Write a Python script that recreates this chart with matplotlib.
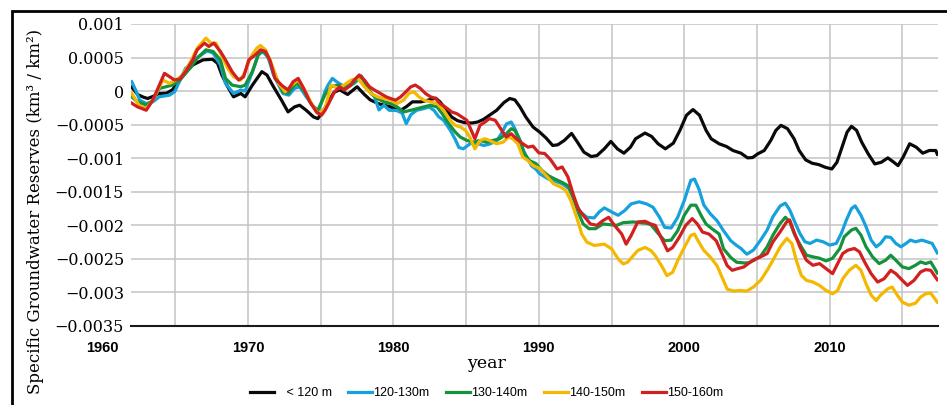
import numpy as np
import matplotlib
matplotlib.use("Agg")
import matplotlib.pyplot as plt
from matplotlib.patches import Rectangle
from matplotlib.transforms import blended_transform_factory

# values are in units of 0.001 km3/km2
yr_black = [1962.0, 1962.4, 1962.8, 1963.1, 1963.45, 1963.9, 1964.4, 1964.8, 1965.3, 1965.8,
            1966.2, 1966.9, 1967.55, 1967.9, 1968.2, 1968.6, 1969.0, 1969.5, 1969.8, 1970.3,
            1970.95, 1971.3, 1971.75, 1972.3, 1972.75, 1973.2, 1973.55, 1974.0, 1974.5, 1974.8,
            1975.3, 1975.9, 1976.3, 1976.85, 1977.5, 1978.0, 1978.4, 1979.0, 1979.8, 1980.4,
            1980.9, 1981.3, 1981.9, 1982.55, 1982.9, 1983.2, 1983.6, 1984.0, 1984.4, 1984.9,
            1985.4, 1985.8, 1986.2, 1986.6, 1987.1, 1987.6, 1988.0, 1988.35, 1988.7, 1989.1,
            1989.6, 1990.05, 1990.5, 1990.95, 1991.3, 1991.75, 1992.25, 1992.65, 1993.1, 1993.6,
            1994.0, 1994.5, 1994.95, 1995.4, 1995.85, 1996.3, 1996.65, 1997.3, 1997.75, 1998.2,
            1998.7, 1999.25, 1999.7, 2000.15, 2000.6, 2001.05, 2001.5, 2001.85, 2002.4, 2002.9,
            2003.35, 2003.9, 2004.35, 2004.7, 2005.05, 2005.5, 2005.95, 2006.3, 2006.65, 2007.1,
            2007.55, 2007.9, 2008.35, 2008.8, 2009.25, 2009.7, 2010.15, 2010.5, 2010.85, 2011.2,
            2011.5, 2011.85, 2012.2, 2012.65, 2013.1, 2013.55, 2014.0, 2014.35, 2014.7, 2015.05,
            2015.5, 2015.95, 2016.4, 2016.85, 2017.3, 2017.4]
v_black = [0.06, -0.05, -0.09, -0.11, -0.08, -0.035, -0.03, 0.02, 0.165, 0.30,
           0.39, 0.465, 0.475, 0.415, 0.24, 0.065, -0.085, -0.035, -0.085, 0.09,
           0.29, 0.24, 0.065, -0.135, -0.31, -0.235, -0.21, -0.285, -0.385, -0.41,
           -0.25, -0.02, 0.02, -0.05, 0.065, -0.05, -0.13, -0.19, -0.235, -0.30,
           -0.23, -0.16, -0.16, -0.125, -0.105, -0.16, -0.27, -0.385, -0.44, -0.47,
           -0.475, -0.46, -0.42, -0.36, -0.285, -0.17, -0.11, -0.13, -0.235, -0.385,
           -0.535, -0.61, -0.70, -0.81, -0.80, -0.735, -0.63, -0.76, -0.91, -0.975,
           -0.96, -0.86, -0.75, -0.86, -0.925, -0.835, -0.71, -0.625, -0.675, -0.785,
           -0.86, -0.775, -0.585, -0.36, -0.275, -0.36, -0.585, -0.71, -0.785, -0.825,
           -0.885, -0.925, -0.995, -0.99, -0.935, -0.885, -0.735, -0.585, -0.51, -0.56,
           -0.71, -0.885, -1.025, -1.075, -1.095, -1.135, -1.16, -1.06, -0.835, -0.61,
           -0.525, -0.585, -0.76, -0.935, -1.085, -1.06, -0.995, -1.05, -1.11, -0.985,
           -0.785, -0.835, -0.925, -0.885, -0.885, -0.94]

yr_blue = [1962.0, 1962.3, 1962.55, 1963.0, 1963.45, 1963.9, 1964.6, 1964.95, 1965.3, 1965.7,
           1966.2, 1966.6, 1967.2, 1967.6, 1968.1, 1968.45, 1969.0, 1969.5, 1969.8, 1970.3,
           1970.7, 1971.05, 1971.4, 1971.75, 1972.4, 1972.8, 1973.2, 1973.55, 1974.0, 1974.6,
           1974.85, 1975.3, 1975.5, 1975.8, 1976.15, 1976.6, 1977.3, 1977.8, 1978.2, 1978.7,
           1979.0, 1979.35, 1979.7, 1980.25, 1980.6, 1980.88, 1981.2, 1981.6, 1982.1, 1982.45,
           1982.8, 1983.1, 1983.45, 1983.9, 1984.25, 1984.5, 1984.8, 1985.3, 1985.75, 1986.2,
           1986.6, 1987.1, 1987.4, 1987.77, 1988.1, 1988.35, 1988.7, 1988.95, 1989.5, 1989.8,
           1990.05, 1990.65, 1991.1, 1991.6, 1992.1, 1992.45, 1992.85, 1993.3, 1993.8, 1994.15,
           1994.5, 1995.0, 1995.45, 1995.9, 1996.35, 1996.9, 1997.4, 1997.85, 1998.3, 1998.65,
           1999.1, 1999.55, 2000.0, 2000.45, 2000.7, 2001.0, 2001.35, 2001.8, 2002.25, 2002.7,
           2003.2, 2003.6, 2003.9, 2004.3, 2004.75, 2005.25, 2005.7, 2006.1, 2006.6, 2006.95,
           2007.25, 2007.6, 2007.95, 2008.3, 2008.65, 2009.1, 2009.55, 2010.0, 2010.45, 2010.8,
           2011.15, 2011.5, 2011.75, 2012.15, 2012.5, 2012.85, 2013.2, 2013.5, 2013.85, 2014.2,
           2014.55, 2014.9, 2015.25, 2015.55, 2015.9, 2016.35, 2016.7, 2017.05, 2017.4]
v_blue = [0.14, 0.0, -0.135, -0.185, -0.16, -0.085, -0.06, -0.01, 0.15, 0.34,
          0.415, 0.515, 0.60, 0.565, 0.39, 0.115, -0.035, 0.015, 0.0, 0.29,
          0.54, 0.59, 0.49, 0.24, -0.035, -0.06, 0.04, 0.065, -0.085, -0.26,
          -0.30, 0.0, 0.09, 0.19, 0.13, 0.07, 0.115, 0.22, 0.04, -0.085,
          -0.28, -0.21, -0.285, -0.29, -0.33, -0.485, -0.35, -0.285, -0.26, -0.235,
          -0.29, -0.38, -0.435, -0.58, -0.72, -0.84, -0.86, -0.78, -0.78, -0.81,
          -0.79, -0.74, -0.64, -0.49, -0.46, -0.56, -0.735, -0.89, -1.115, -1.165,
          -1.23, -1.31, -1.34, -1.38, -1.455, -1.63, -1.80, -1.88, -1.89, -1.80,
          -1.74, -1.80, -1.85, -1.78, -1.68, -1.65, -1.68, -1.73, -1.88, -2.03,
          -2.04, -1.88, -1.63, -1.33, -1.31, -1.455, -1.70, -1.83, -1.93, -2.08,
          -2.23, -2.30, -2.345, -2.43, -2.37, -2.22, -2.07, -1.87, -1.71, -1.67,
          -1.77, -1.95, -2.12, -2.245, -2.27, -2.22, -2.245, -2.295, -2.27, -2.12,
          -1.92, -1.75, -1.71, -1.85, -2.02, -2.22, -2.32, -2.27, -2.17, -2.18,
          -2.27, -2.32, -2.27, -2.22, -2.245, -2.22, -2.245, -2.27, -2.41]

yr_green = [1962.0, 1962.4, 1963.0, 1963.45, 1963.9, 1964.35, 1964.8, 1965.3, 1966.0, 1966.5,
            1967.1, 1967.6, 1968.1, 1968.45, 1968.9, 1969.5, 1969.8, 1970.3, 1970.7, 1970.95,
            1971.3, 1971.6, 1972.0, 1972.4, 1972.75, 1973.2, 1973.4, 1973.9, 1974.4, 1974.8,
            1975.3, 1975.7, 1976.2, 1976.6, 1977.1, 1977.45, 1977.77, 1978.1, 1978.45, 1978.9,
            1979.35, 1979.8, 1980.25, 1980.7, 1981.2, 1981.65, 1982.1, 1982.55, 1983.0, 1983.35,
            1983.8, 1984.25, 1984.6, 1985.05, 1985.5, 1985.95, 1986.4, 1986.85, 1987.3, 1987.77,
            1988.1, 1988.35, 1988.7, 1989.0, 1989.35, 1989.8, 1990.2, 1990.65, 1991.1, 1991.6,
            1992.0, 1992.35, 1992.7, 1993.05, 1993.45, 1993.9, 1994.4, 1994.9, 1995.35, 1995.8,
            1996.5, 1996.95, 1997.4, 1997.7, 1998.2, 1998.65, 1999.1, 1999.55, 2000.0, 2000.45,
            2000.8, 2001.15, 2001.5, 2001.9, 2002.4, 2002.7, 2003.2, 2003.6, 2004.1, 2004.4,
            2004.8, 2005.25, 2005.7, 2006.1, 2006.6, 2006.95, 2007.25, 2007.6, 2008.05, 2008.4,
            2008.85, 2009.3, 2009.75, 2010.2, 2010.7, 2011.0, 2011.5, 2011.8, 2012.15, 2012.5,
            2012.95, 2013.4, 2013.85, 2014.2, 2014.55, 2015.0, 2015.45, 2015.9, 2016.25, 2016.6,
            2016.95, 2017.4]
v_green = [-0.085, -0.16, -0.21, -0.14, 0.04, 0.065, 0.09, 0.165, 0.34, 0.49,
           0.615, 0.59, 0.465, 0.19, 0.09, 0.065, 0.09, 0.29, 0.54, 0.60,
           0.54, 0.39, 0.165, -0.01, -0.035, 0.09, 0.115, -0.01, -0.21, -0.285,
           -0.05, 0.065, 0.09, 0.065, 0.09, 0.165, 0.225, 0.115, -0.035, -0.11,
           -0.16, -0.185, -0.235, -0.31, -0.285, -0.26, -0.235, -0.21, -0.235, -0.335,
           -0.485, -0.61, -0.685, -0.735, -0.76, -0.735, -0.76, -0.735, -0.71, -0.635,
           -0.56, -0.585, -0.735, -0.935, -1.035, -1.08, -1.18, -1.26, -1.31, -1.36,
           -1.41, -1.58, -1.80, -1.98, -2.05, -2.05, -1.98, -1.99, -2.0, -1.96,
           -1.95, -1.96, -1.97, -1.99, -2.12, -2.23, -2.22, -2.08, -1.85, -1.70,
           -1.70, -1.85, -1.98, -2.05, -2.13, -2.35, -2.48, -2.55, -2.56, -2.56,
           -2.52, -2.46, -2.32, -2.145, -1.97, -1.88, -1.945, -2.145, -2.32, -2.445,
           -2.47, -2.49, -2.53, -2.49, -2.345, -2.17, -2.07, -2.045, -2.145, -2.32,
           -2.47, -2.57, -2.52, -2.445, -2.52, -2.62, -2.645, -2.595, -2.545, -2.57,
           -2.545, -2.71]

yr_yellow = [1962.0, 1962.5, 1963.0, 1963.45, 1963.9, 1964.15, 1964.6, 1965.05, 1965.5, 1966.05,
             1966.5, 1967.1, 1967.45, 1967.8, 1968.1, 1968.6, 1969.0, 1969.5, 1969.8, 1970.2,
             1970.6, 1970.85, 1971.2, 1971.6, 1972.1, 1972.55, 1973.0, 1973.45, 1973.9, 1974.35,
             1974.8, 1975.3, 1975.7, 1976.2, 1976.6, 1977.1, 1977.55, 1978.0, 1978.45, 1978.9,
             1979.35, 1979.8, 1980.25, 1980.7, 1981.05, 1981.4, 1981.75, 1982.1, 1982.55, 1983.0,
             1983.45, 1983.9, 1984.25, 1984.6, 1984.95, 1985.25, 1985.6, 1985.95, 1986.3, 1986.6,
             1987.1, 1987.55, 1987.9, 1988.2, 1988.55, 1988.9, 1989.25, 1989.6, 1990.05, 1990.5,
             1991.0, 1991.5, 1991.85, 1992.2, 1992.6, 1992.95, 1993.3, 1993.8, 1994.15, 1994.5,
             1995.0, 1995.45, 1995.8, 1996.1, 1996.5, 1996.8, 1997.3, 1997.7, 1998.0, 1998.5,
             1998.8, 1999.2, 1999.55, 2000.0, 2000.45, 2000.7, 2001.0, 2001.35, 2001.8, 2002.25,
             2002.6, 2002.95, 2003.4, 2003.85, 2004.3, 2004.75, 2005.25, 2005.7, 2006.1, 2006.6,
             2007.05, 2007.4, 2007.7, 2008.05, 2008.4, 2008.85, 2009.3, 2009.75, 2010.2, 2010.55,
             2010.9, 2011.35, 2011.8, 2012.15, 2012.5, 2012.85, 2013.2, 2013.5, 2014.0, 2014.3,
             2014.65, 2015.0, 2015.45, 2015.9, 2016.25, 2016.6, 2016.95, 2017.15, 2017.4]
v_yellow = [-0.035, -0.21, -0.26, -0.14, 0.06, 0.165, 0.115, 0.165, 0.24, 0.44,
            0.64, 0.79, 0.715, 0.715, 0.565, 0.34, 0.215, 0.165, 0.29, 0.515,
            0.64, 0.68, 0.615, 0.415, 0.115, -0.01, 0.09, 0.165, 0.015, -0.18,
            -0.335, -0.26, 0.09, 0.04, 0.09, 0.165, 0.19, 0.065, -0.035, -0.085,
            -0.11, -0.135, -0.185, -0.135, -0.035, -0.01, -0.085, -0.135, -0.16, -0.185,
            -0.285, -0.435, -0.51, -0.535, -0.585, -0.685, -0.86, -0.735, -0.71, -0.735,
            -0.785, -0.76, -0.685, -0.71, -0.785, -0.985, -1.035, -1.11, -1.15, -1.26,
            -1.38, -1.43, -1.48, -1.63, -1.88, -2.13, -2.25, -2.30, -2.29, -2.28,
            -2.35, -2.50, -2.575, -2.55, -2.45, -2.375, -2.33, -2.375, -2.45, -2.625,
            -2.75, -2.70, -2.525, -2.33, -2.15, -2.13, -2.25, -2.375, -2.475, -2.60,
            -2.775, -2.95, -2.98, -2.97, -2.98, -2.92, -2.82, -2.67, -2.52, -2.32,
            -2.195, -2.27, -2.52, -2.745, -2.82, -2.845, -2.895, -2.97, -3.02, -2.97,
            -2.795, -2.67, -2.595, -2.67, -2.87, -3.04, -3.12, -3.04, -2.945, -2.92,
            -3.04, -3.145, -3.19, -3.16, -3.07, -3.02, -3.01, -3.07, -3.145]

yr_red = [1962.0, 1962.4, 1963.0, 1963.45, 1963.9, 1964.25, 1964.6, 1964.95, 1965.3, 1965.7,
          1966.2, 1966.5, 1967.0, 1967.3, 1967.65, 1968.1, 1968.45, 1968.9, 1969.35, 1969.7,
          1970.05, 1970.5, 1970.85, 1971.2, 1971.5, 1971.85, 1972.3, 1972.75, 1973.1, 1973.45,
          1973.8, 1974.25, 1974.7, 1975.05, 1975.3, 1975.6, 1975.95, 1976.3, 1976.6, 1977.0,
          1977.3, 1977.65, 1978.0, 1978.35, 1978.7, 1979.1, 1979.5, 1979.8, 1980.15, 1980.5,
          1980.85, 1981.2, 1981.5, 1981.85, 1982.2, 1982.55, 1982.9, 1983.2, 1983.55, 1984.0,
          1984.35, 1984.7, 1985.05, 1985.25, 1985.6, 1985.95, 1986.3, 1986.6, 1987.0, 1987.45,
          1987.75, 1988.1, 1988.45, 1988.9, 1989.25, 1989.6, 1990.0, 1990.4, 1990.8, 1991.25,
          1991.6, 1992.0, 1992.35, 1992.7, 1993.05, 1993.55, 1994.0, 1994.4, 1994.8, 1995.2,
          1995.7, 1996.0, 1996.35, 1996.8, 1997.3, 1997.7, 1998.0, 1998.4, 1998.85, 1999.2,
          1999.65, 2000.1, 2000.55, 2000.9, 2001.25, 2001.7, 2002.2, 2002.6, 2002.95, 2003.3,
          2003.6, 2004.1, 2004.4, 2004.8, 2005.25, 2005.7, 2006.1, 2006.6, 2007.05, 2007.25,
          2007.5, 2007.95, 2008.4, 2008.85, 2009.3, 2009.75, 2010.2, 2010.55, 2010.9, 2011.25,
          2011.7, 2012.05, 2012.4, 2012.85, 2013.3, 2013.75, 2014.2, 2014.55, 2015.0, 2015.35,
          2015.8, 2016.25, 2016.6, 2016.95, 2017.4]
v_red = [-0.18, -0.235, -0.285, -0.135, 0.09, 0.265, 0.215, 0.165, 0.18, 0.29,
         0.465, 0.615, 0.715, 0.665, 0.715, 0.59, 0.465, 0.29, 0.165, 0.215,
         0.465, 0.54, 0.615, 0.59, 0.465, 0.19, 0.09, 0.015, 0.14, 0.19,
         0.05, -0.16, -0.31, -0.36, -0.285, -0.16, -0.01, 0.065, 0.015, 0.075,
         0.165, 0.24, 0.165, 0.065, 0.015, -0.035, -0.085, -0.11, -0.135, -0.085,
         -0.01, 0.065, 0.09, 0.04, -0.035, -0.085, -0.11, -0.185, -0.235, -0.31,
         -0.335, -0.385, -0.435, -0.535, -0.71, -0.51, -0.46, -0.41, -0.435, -0.585,
         -0.685, -0.635, -0.71, -0.785, -0.835, -0.82, -0.92, -0.93, -1.02, -1.16,
         -1.13, -1.28, -1.53, -1.75, -1.85, -1.98, -2.0, -1.93, -1.88, -2.0,
         -2.13, -2.28, -2.15, -1.95, -1.94, -1.98, -2.0, -2.18, -2.38, -2.33,
         -2.18, -2.0, -1.90, -1.98, -2.10, -2.13, -2.23, -2.425, -2.60, -2.67,
         -2.65, -2.62, -2.57, -2.51, -2.47, -2.42, -2.245, -2.095, -1.945, -1.92,
         -2.07, -2.32, -2.52, -2.595, -2.57, -2.645, -2.72, -2.57, -2.42, -2.37,
         -2.345, -2.395, -2.545, -2.72, -2.845, -2.795, -2.67, -2.72, -2.82, -2.895,
         -2.82, -2.695, -2.66, -2.67, -2.81]

labels = ["   < 120 m", "120-130m", "130-140m", "140-150m", "150-160m"]
colors = ["#0a0a0a", "#15a2dc", "#15923d", "#f4b800", "#d21f1f"]
series = [(yr_black, v_black), (yr_blue, v_blue), (yr_green, v_green),
          (yr_yellow, v_yellow), (yr_red, v_red)]

ytick_vals = np.arange(-0.0035, 0.00101, 0.0005)
ytick_labels = ["\u22120.0035", "\u22120.003", "\u22120.0025", "\u22120.002", "\u22120.0015",
                "\u22120.001", "\u22120.0005", "0", "0.0005", "0.001"]
decade_labels = [1960, 1970, 1980, 1990, 2000, 2010]
grid_years = np.arange(1965, 2016, 5)

fig = plt.figure(figsize=(9.47, 4.05), dpi=100)
ax = fig.add_axes([131 / 947, 1 - 326 / 405, (938 - 131) / 947, (326 - 24) / 405])

for (yr, v), c, lab in zip(series, colors, labels):
    ax.plot(yr, np.array(v) * 1e-3, color=c, lw=2.3, label=lab, solid_joinstyle="round")

ax.set_xlim(1961.95, 2017.45)
ax.set_ylim(-0.0035, 0.001)
ax.set_yticks(ytick_vals)
ax.set_yticklabels(ytick_labels, family="DejaVu Serif", fontsize=11.5)
ax.set_xticks(grid_years)
ax.set_xticklabels([])
ax.tick_params(length=0, pad=5)
ax.grid(True, color="#c4c4c4", lw=1.1)
ax.set_axisbelow(True)
for s in ["top", "left", "right"]:
    ax.spines[s].set_visible(False)
ax.spines["bottom"].set_color("#1a1a1a")
ax.spines["bottom"].set_linewidth(1.5)

# decade labels sit below the axis, 1960 outside the data range
trans = blended_transform_factory(ax.transData, ax.transAxes)
for d in decade_labels:
    ax.text(d, -0.073, str(d), transform=trans, ha="center", va="center",
            family=["Liberation Sans Narrow", "Liberation Sans"], fontweight="bold",
            fontsize=10.5, clip_on=False)

fig.text(0.514, 1 - 363 / 405, "year", ha="center", va="center",
         family="DejaVu Serif", fontsize=12.5)
fig.text(0.037, 1 - 211 / 405, "Specific Groundwater Reserves (km\u00b3 / km\u00b2)",
         rotation=90, ha="center", va="center", family="DejaVu Serif", fontsize=12)

fig.legend(loc="center", bbox_to_anchor=(0.514, 1 - 393 / 405), ncol=5, frameon=False,
           prop={"family": "Liberation Sans", "size": 9}, handlelength=1.9,
           handletextpad=0.15, columnspacing=1.3)

# outer frame, cut off at right and bottom
fig.add_artist(Rectangle((12 / 947, -0.1), 1.2, 0.1 + 1 - 11 / 405, transform=fig.transFigure,
                         fill=False, lw=2, ec="black"))

fig.savefig("out.png", dpi=100)
